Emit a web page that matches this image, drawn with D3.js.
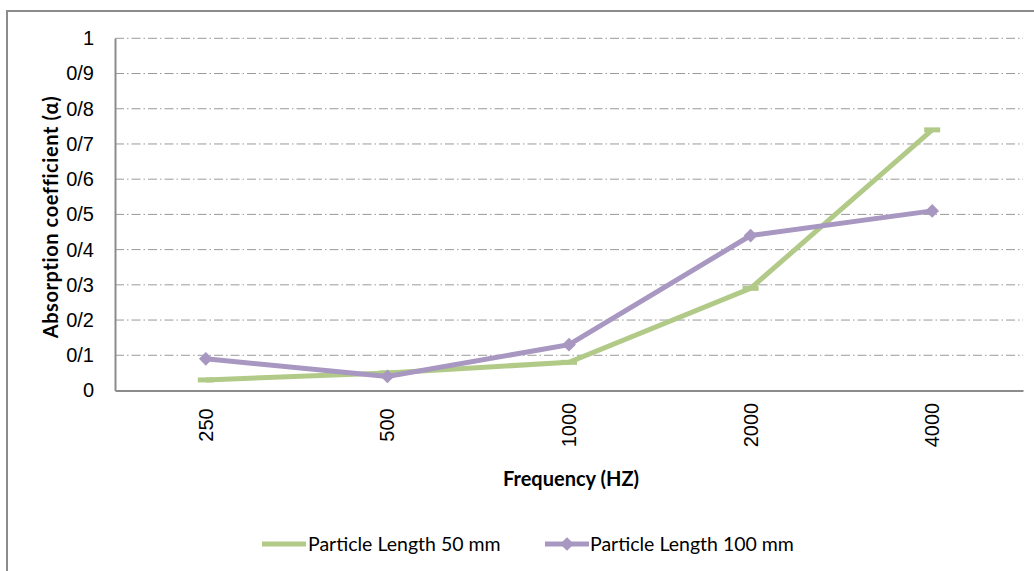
<!DOCTYPE html>
<html>
<head>
<meta charset="utf-8">
<script src="https://cdn.jsdelivr.net/npm/d3@7"></script>
<style>
  body { margin: 0; background: #fff; }
  svg { font-family: "Lato", "Open Sans", sans-serif; }
</style>
</head>
<body>
<svg id="chart" width="1034" height="571"></svg>
<script>
// data
var frequencies = ["250", "500", "1000", "2000", "4000"];
var length50 = [0.03, 0.05, 0.08, 0.29, 0.74];
var length100 = [0.09, 0.04, 0.13, 0.44, 0.51];
var yTicks = [0, 0.1, 0.2, 0.3, 0.4, 0.5, 0.6, 0.7, 0.8, 0.9, 1];
var yTickLabels = ["0", "0/1", "0/2", "0/3", "0/4", "0/5", "0/6", "0/7", "0/8", "0/9", "1"];
var seriesNames = ["Particle Length 50 mm", "Particle Length 100 mm"];

var green = "#b2ca88", purple = "#a797c1";

var svg = d3.select("#chart");

// outer frame
svg.append("rect")
    .attr("x", 7).attr("y", 11)
    .attr("width", 1040).attr("height", 580)
    .attr("fill", "none").attr("stroke", "#8c8c8c").attr("stroke-width", 2);

var plotLeft = 115, plotRight = 1023, plotTop = 38.3, plotBottom = 390.5;

var x = d3.scaleBand().domain(frequencies).range([plotLeft, plotRight]);
var y = d3.scaleLinear().domain([0, 1]).range([plotBottom, plotTop]);
var cx = f => x(f) + x.bandwidth() / 2;

// gridlines
svg.append("g")
    .selectAll("line")
    .data(yTicks.slice(1))
    .join("line")
    .attr("x1", plotLeft).attr("x2", plotRight)
    .attr("y1", d => y(d)).attr("y2", d => y(d))
    .attr("stroke", "#9a9a9a").attr("stroke-width", 1)
    .attr("stroke-dasharray", "9,3,1.5,3");

// y axis
var yAxis = svg.append("g")
    .attr("transform", "translate(" + plotLeft + ",0)")
    .call(d3.axisLeft(y).tickValues(yTicks).tickSize(0).tickPadding(21)
        .tickFormat((d, i) => yTickLabels[i]));
yAxis.select(".domain").attr("stroke", "#8c8c8c").attr("stroke-width", 2);
yAxis.selectAll("text").attr("font-size", 20).attr("fill", "#000");

// x axis
var xAxis = svg.append("g")
    .attr("transform", "translate(0," + plotBottom + ")")
    .call(d3.axisBottom(x).tickSize(0).tickPadding(0).tickSizeOuter(0));
xAxis.select(".domain").attr("stroke", "#8c8c8c").attr("stroke-width", 2);
xAxis.selectAll("text")
    .attr("font-size", 20).attr("fill", "#000")
    .attr("x", 0).attr("y", 0).attr("dy", 0)
    .attr("text-anchor", "middle")
    .attr("transform", "translate(7," + (425 - plotBottom) + ") rotate(-90)");

// axis titles
svg.append("text")
    .attr("transform", "translate(58,217) rotate(-90)")
    .attr("text-anchor", "middle")
    .attr("font-size", 20).attr("font-weight", "bold")
    .attr("letter-spacing", 0.6)
    .text("Absorption coefficient (α)");

svg.append("text")
    .attr("x", 571).attr("y", 486)
    .attr("text-anchor", "middle")
    .attr("font-size", 20).attr("font-weight", "bold")
    .text("Frequency (HZ)");

// lines
var line = d3.line()
    .x((d, i) => cx(frequencies[i]))
    .y(d => y(d));

svg.append("path").datum(length50)
    .attr("d", line).attr("fill", "none")
    .attr("stroke", green).attr("stroke-width", 5);

svg.append("g").selectAll("rect")
    .data(length50)
    .join("rect")
    .attr("x", (d, i) => cx(frequencies[i]) - 8)
    .attr("y", d => y(d) - 2.5)
    .attr("width", 16).attr("height", 5)
    .attr("fill", green);

svg.append("path").datum(length100)
    .attr("d", line).attr("fill", "none")
    .attr("stroke", purple).attr("stroke-width", 5);

var diamond = d3.symbol().type(d3.symbolDiamond2).size(120);
svg.append("g").selectAll("path")
    .data(length100)
    .join("path")
    .attr("d", diamond)
    .attr("transform", (d, i) => "translate(" + cx(frequencies[i]) + "," + y(d) + ")")
    .attr("fill", purple);

// legend
var legend = svg.append("g").attr("transform", "translate(0,544)");
legend.append("line")
    .attr("x1", 262).attr("x2", 306).attr("y1", 0).attr("y2", 0)
    .attr("stroke", green).attr("stroke-width", 5);
legend.append("text")
    .attr("x", 308).attr("y", 7)
    .attr("font-size", 19.5)
    .text(seriesNames[0]);
legend.append("line")
    .attr("x1", 545).attr("x2", 589).attr("y1", 0).attr("y2", 0)
    .attr("stroke", purple).attr("stroke-width", 5);
legend.append("path")
    .attr("d", diamond)
    .attr("transform", "translate(567,0)")
    .attr("fill", purple);
legend.append("text")
    .attr("x", 590).attr("y", 7)
    .attr("font-size", 19.5)
    .text(seriesNames[1]);
</script>
</body>
</html>
